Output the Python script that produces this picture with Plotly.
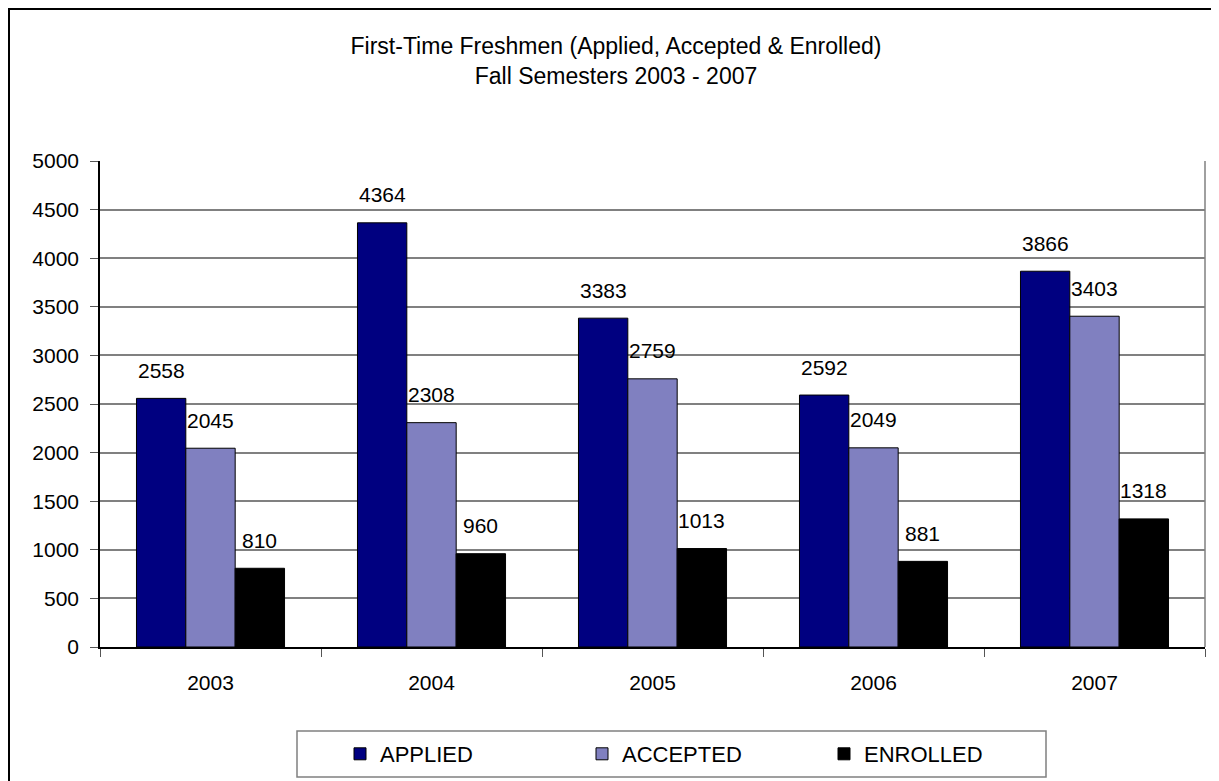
import plotly.graph_objects as go

# data
years = ["2003", "2004", "2005", "2006", "2007"]
applied = [2558, 4364, 3383, 2592, 3866]
accepted = [2045, 2308, 2759, 2049, 3403]
enrolled = [810, 960, 1013, 881, 1318]

series_names = ["APPLIED", "ACCEPTED", "ENROLLED"]
series_colors = ["#000080", "#8080c0", "#000000"]

FONT = "Liberation Sans, Arial, sans-serif"
W, H = 1219, 781
ML, MR, MT, MB = 92, 22, 153, 142
BARGAP = 0.33

fig = go.Figure()
for name, vals, col in zip(series_names, [applied, accepted, enrolled], series_colors):
    fig.add_trace(go.Bar(
        x=years, y=vals, name=name,
        marker=dict(color=col, line=dict(color="black", width=1)),
    ))

# value labels above each bar (Excel style, lifted a bit off the bar top)
step = (1 - BARGAP) / 3
annos = []
for k, vals in enumerate([applied, accepted, enrolled]):
    for i, v in enumerate(vals):
        annos.append(dict(
            x=i + (k - 1) * step, y=v, xref="x", yref="y",
            text=str(v), showarrow=False, yanchor="middle", yshift=28,
            font=dict(size=21, color="black", family=FONT),
        ))

# pixel (figure coords) -> paper coords
pw = W - ML - MR
ph = H - MT - MB
def px(p):
    return (p - ML) / pw
def py(q):
    return (H - MB - q) / ph

shapes = [
    # outer chart frame
    dict(type="rect", xref="paper", yref="paper",
         x0=px(1), x1=px(1230), y0=py(800), y1=py(1),
         line=dict(color="black", width=2), layer="below"),
    # right border of plot area
    dict(type="line", xref="paper", yref="paper", x0=1, x1=1, y0=0, y1=1,
         line=dict(color="#808080", width=1.5)),
    # legend box
    dict(type="rect", xref="paper", yref="paper",
         x0=px(289), x1=px(1038), y0=py(769), y1=py(723),
         line=dict(color="#808080", width=1.5)),
]

fig.update_layout(
    width=W, height=H,
    margin=dict(l=ML, r=MR, t=MT, b=MB, autoexpand=False),
    paper_bgcolor="white", plot_bgcolor="white",
    font=dict(family=FONT, size=21, color="black"),
    title=dict(
        text="First-Time Freshmen (Applied, Accepted & Enrolled)<br>Fall Semesters 2003 - 2007",
        x=608 / W, xanchor="center", y=1 - 46 / H, yanchor="top",
        font=dict(size=23, family=FONT, color="black"),
    ),
    barmode="group", bargap=BARGAP, bargroupgap=0,
    showlegend=True,
    legend=dict(
        orientation="h", x=px(332), xanchor="left", y=py(746), yanchor="middle",
        entrywidth=197, entrywidthmode="pixels",
        bgcolor="rgba(0,0,0,0)", borderwidth=0,
        font=dict(size=22, family=FONT, color="black"),
        traceorder="normal",
    ),
    annotations=annos,
    shapes=shapes,
)

fig.update_xaxes(
    type="category", showline=True, linecolor="black", linewidth=1.5,
    ticks="outside", tickson="boundaries", ticklen=8, tickcolor="#555555",
    ticklabelstandoff=16, showgrid=False,
)
fig.update_yaxes(
    range=[0, 5000], dtick=500, showline=True, linecolor="black", linewidth=1.5,
    ticks="outside", ticklen=8, tickcolor="#555555",
    showgrid=True, gridcolor="#808080", gridwidth=1.5, zeroline=False,
    ticklabelstandoff=7,
)

fig.write_html("out.html")
